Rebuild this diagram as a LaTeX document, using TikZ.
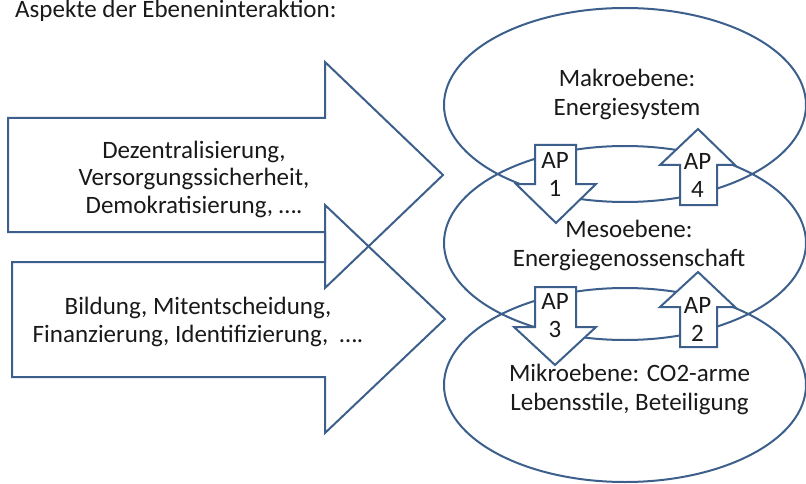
\documentclass[tikz,border=0pt]{standalone}
\usepackage{fontspec}
\setmainfont{Carlito}
\definecolor{edge}{RGB}{60,95,140}
\begin{document}
\begin{tikzpicture}[x=1pt,y=-1pt,
  shapeline/.style={draw=edge, line width=2pt, line join=miter},
  apbox/.style={shapeline, fill=white},
  lbl/.style={font=\fontsize{25}{29.5}\selectfont, align=center, text=black!90, inner sep=0pt},
  aplbl/.style={font=\fontsize{25}{28}\selectfont, align=center, text=black!90, inner sep=0pt},
  arrowlbl/.style={font=\fontsize{25}{27.5}\selectfont, align=center, text=black!90, inner sep=0pt}]
\useasboundingbox (0,0) rectangle (806,484);
% title
\node[lbl, anchor=base west] (title) at (15,18) {Aspekte der Ebeneninteraktion:};
% big arrows
\draw[shapeline] (8,118) -- (325,118) -- (325,62) -- (443,175) -- (325,288) -- (325,232) -- (8,232) -- cycle;
\draw[shapeline] (12,262) -- (325,262) -- (325,205) -- (445,319) -- (325,433) -- (325,377) -- (12,377) -- cycle;
\node[arrowlbl] (t1) at (194,179) {Dezentralisierung,\\Versorgungssicherheit,\\Demokratisierung, \dots.};
\node[arrowlbl] (t2) at (198,322) {Bildung, Mitentscheidung,\\Finanzierung, Identifizierung,\ \ \dots.};
% ellipses
\draw[shapeline] (625,105) ellipse [x radius=181, y radius=97];
\draw[shapeline] (625,243) ellipse [x radius=181, y radius=97];
\draw[shapeline] (625,385) ellipse [x radius=181, y radius=97];
\node[lbl] (makro) at (627,94.5) {Makroebene:\\Energiesystem};
\node[lbl] (meso) at (629,245.5) {Mesoebene:\\Energiegenossenschaft};
\node[lbl] (mikro) at (629.5,389.5) {Mikroebene: CO2-arme\\Lebensstile, Beteiligung};
% AP arrows
\draw[apbox] (535,145) -- (576,145) -- (576,184) -- (596,184) -- (556,223) -- (516,184) -- (535,184) -- cycle;
\draw[apbox] (535,287) -- (576,287) -- (576,327) -- (596,327) -- (555,365) -- (514,327) -- (535,327) -- cycle;
\draw[apbox] (680,205) -- (717,205) -- (717,165) -- (735,165) -- (698,129) -- (660,165) -- (680,165) -- cycle;
\draw[apbox] (680,347) -- (717,347) -- (717,307) -- (735,307) -- (698,272) -- (660,307) -- (680,307) -- cycle;
\node[aplbl] (ap1) at (555,174) {AP\\1};
\node[aplbl] (ap3) at (555,315.5) {AP\\3};
\node[aplbl] (ap4) at (697.5,175.5) {AP\\4};
\node[aplbl] (ap2) at (697.5,319) {AP\\2};
\end{tikzpicture}
\end{document}
